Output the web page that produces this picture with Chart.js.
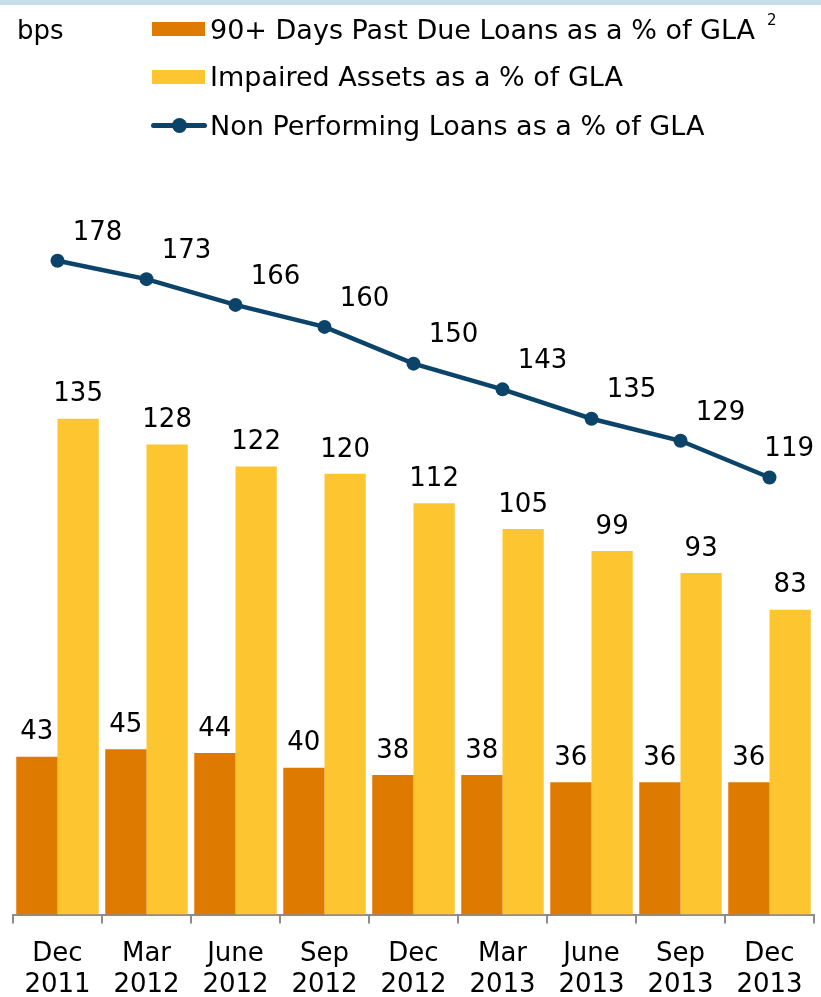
<!DOCTYPE html>
<html>
<head>
<meta charset="utf-8">
<script src="https://cdn.jsdelivr.net/npm/chart.js@4/dist/chart.umd.min.js"></script>
<style>
  html, body { margin: 0; padding: 0; background: #fff; }
  body { width: 821px; height: 997px; position: relative; overflow: hidden; font-family: "DejaVu Sans", Verdana, sans-serif; color: #000; }
  #band { position: absolute; left: 0; top: 0; width: 821px; height: 5px; background: #C6DEEA; }
  #wrap { position: absolute; left: 0; top: 0; width: 821px; height: 997px; }
  .lg { position: absolute; font-size: 27px; line-height: 30px; white-space: nowrap; }
  .sw { position: absolute; }
  .sup { font-size: 15px; position: relative; top: -14px; margin-left: 12px; vertical-align: baseline; line-height: 0; }
</style>
</head>
<body>
<div id="band"></div>
<div id="wrap"><canvas id="c" width="821" height="997"></canvas></div>
<div class="lg" style="left:17px; top:15px; font-size:26px;">bps</div>
<div class="sw" style="left:152px; top:22px; width:53px; height:14px; background:#DF7A00;"></div>
<div class="lg" id="l1" style="left:210px; top:15px;"></div>
<div class="sw" style="left:152px; top:70px; width:53px; height:14px; background:#FDC52F;"></div>
<div class="lg" id="l2" style="left:210px; top:62px;"></div>
<div class="sw" style="left:151px; top:123px; width:56px; height:5px; border-radius:3px; background:#0B4468;"></div>
<div class="sw" style="left:172px; top:118px; width:15px; height:15px; border-radius:50%; background:#0B4468;"></div>
<div class="lg" id="l3" style="left:210px; top:111px;"></div>
<script>
const categories = [["Dec","2011"],["Mar","2012"],["June","2012"],["Sep","2012"],["Dec","2012"],["Mar","2013"],["June","2013"],["Sep","2013"],["Dec","2013"]];
const pastDue90 = [43, 45, 44, 40, 38, 38, 36, 36, 36];
const impaired = [135, 128, 122, 120, 112, 105, 99, 93, 83];
const nonPerforming = [178, 173, 166, 160, 150, 143, 135, 129, 119];
const seriesNames = ["90+ Days Past Due Loans as a % of GLA", "Impaired Assets as a % of GLA", "Non Performing Loans as a % of GLA"];

document.getElementById('l1').innerHTML = seriesNames[0] + '<span class="sup">2</span>';
document.getElementById('l2').textContent = seriesNames[1];
document.getElementById('l3').textContent = seriesNames[2];

const FONT = '"DejaVu Sans", Verdana, sans-serif';

const labelPlugin = {
  id: 'valueLabels',
  afterDatasetsDraw(chart) {
    const ctx = chart.ctx;
    ctx.save();
    ctx.font = '26px ' + FONT;
    ctx.fillStyle = '#000';
    ctx.textAlign = 'center';
    ctx.textBaseline = 'middle';
    chart.data.datasets.forEach((ds, di) => {
      const meta = chart.getDatasetMeta(di);
      meta.data.forEach((el, i) => {
        const txt = String(ds.data[i]);
        if (ds.type === 'line') {
          const w = ctx.measureText(txt).width;
          let cx = el.x + 40;
          cx = Math.min(cx, chart.chartArea.right - w / 2);
          ctx.fillText(txt, cx, el.y - 28);
        } else {
          ctx.fillText(txt, el.x, el.y - 24);
        }
      });
    });
    ctx.restore();
  }
};

new Chart(document.getElementById('c'), {
  data: {
    labels: categories,
    datasets: [
      { type: 'bar', label: seriesNames[0], data: pastDue90, backgroundColor: '#DF7A00', order: 1,
        categoryPercentage: 0.927, barPercentage: 1.0 },
      { type: 'bar', label: seriesNames[1], data: impaired, backgroundColor: '#FDC52F', order: 1,
        categoryPercentage: 0.927, barPercentage: 1.0 },
      { type: 'line', label: seriesNames[2], data: nonPerforming, borderColor: '#0B4468', backgroundColor: '#0B4468',
        borderWidth: 4.5, pointRadius: 7, pointHoverRadius: 7, pointBackgroundColor: '#0B4468', pointBorderWidth: 0, order: 0, tension: 0 }
    ]
  },
  options: {
    responsive: false,
    animation: false,
    events: [],
    layout: { padding: { top: 180, left: 13, right: 2, bottom: -19 } },
    plugins: { legend: { display: false }, tooltip: { enabled: false } },
    scales: {
      y: { display: false, min: 0, max: 200 },
      x: {
        offset: true,
        border: { display: true, color: '#8C8C8C', width: 2 },
        grid: { offset: true, drawOnChartArea: false, drawTicks: true, tickLength: 9, color: '#8C8C8C', lineWidth: 2 },
        ticks: { color: '#000', font: { family: FONT, size: 26, lineHeight: 1.2 }, padding: 15, maxRotation: 0, autoSkip: false }
      }
    }
  },
  plugins: [labelPlugin]
});
</script>
</body>
</html>
